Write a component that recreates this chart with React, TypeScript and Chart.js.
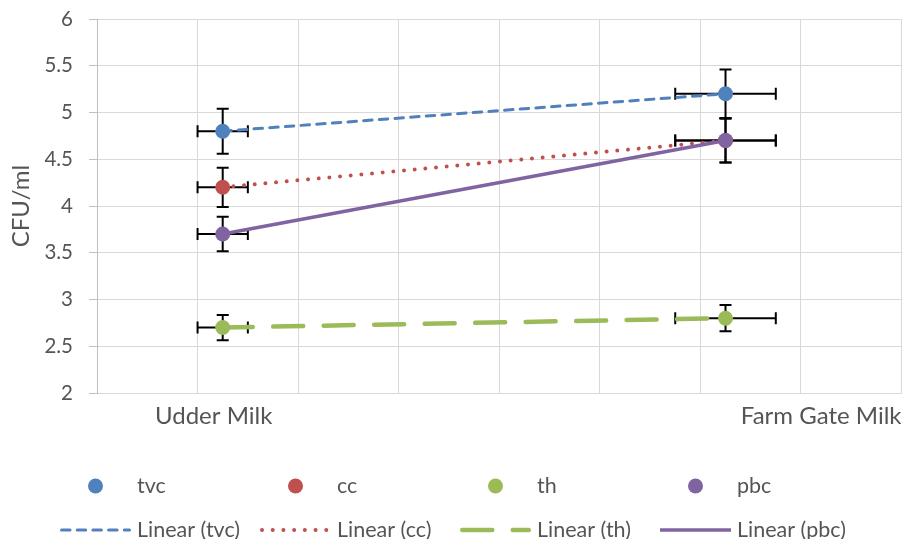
import React, { useEffect, useRef } from 'react';
import { Chart, registerables } from 'chart.js';

Chart.register(...registerables);

// ---- data ----
const categories = ['Udder Milk', 'Farm Gate Milk'];
const xValues = [1, 2];
const xErrors = [0.05, 0.1];
const seriesNames = ['tvc', 'cc', 'th', 'pbc'];
const tvc = [4.8, 5.2];
const cc = [4.2, 4.7];
const th = [2.7, 2.8];
const pbc = [3.7, 4.7];
const tvcErr = [0.24, 0.26];
const ccErr = [0.21, 0.235];
const thErr = [0.135, 0.14];
const pbcErr = [0.185, 0.235];
const yMin = 2;
const yMax = 6;
const yStep = 0.5;
const xMin = 0.75;
const xMax = 2.35;
const xStep = 0.2;
const yTitle = 'CFU/ml';

// ---- styles ----
const FONT = 'Lato, "Open Sans", sans-serif';
const TEXT = '#555555';
const colors = ['#4F81BD', '#C0504D', '#9BBB59', '#8064A2'];
const lineStyles = [
  { width: 3, dash: [8.5, 7.2] },
  { width: 4, dash: [0.01, 10.7] },
  { width: 4.5, dash: [30, 20.5] },
  { width: 3.5, dash: [] as number[] },
];
const seriesValues = [tvc, cc, th, pbc];
const seriesErrors = [tvcErr, ccErr, thErr, pbcErr];

const errorBarsPlugin = {
  id: 'errorBars',
  beforeDatasetsDraw(chart: any) {
    const { ctx, scales } = chart;
    const xs = scales.x;
    const ys = scales.y;
    const cap = 6;
    ctx.save();
    ctx.strokeStyle = '#000';
    ctx.lineWidth = 2;
    seriesValues.forEach((vals, s) => {
      vals.forEach((v, i) => {
        const px = xs.getPixelForValue(xValues[i]);
        const py = ys.getPixelForValue(v);
        const xl = xs.getPixelForValue(xValues[i] - xErrors[i]);
        const xr = xs.getPixelForValue(xValues[i] + xErrors[i]);
        const yt = ys.getPixelForValue(v + seriesErrors[s][i]);
        const yb = ys.getPixelForValue(v - seriesErrors[s][i]);
        ctx.beginPath();
        ctx.moveTo(xl, py); ctx.lineTo(xr, py);
        ctx.moveTo(xl, py - cap); ctx.lineTo(xl, py + cap);
        ctx.moveTo(xr, py - cap); ctx.lineTo(xr, py + cap);
        ctx.moveTo(px, yt); ctx.lineTo(px, yb);
        ctx.moveTo(px - cap, yt); ctx.lineTo(px + cap, yt);
        ctx.moveTo(px - cap, yb); ctx.lineTo(px + cap, yb);
        ctx.stroke();
      });
    });
    ctx.restore();
  },
};

const labelsAndLegendPlugin = {
  id: 'labelsAndLegend',
  afterDraw(chart: any) {
    const { ctx, chartArea, scales } = chart;
    const xs = scales.x;
    ctx.save();
    // category labels
    ctx.fillStyle = TEXT;
    ctx.font = `24px ${FONT}`;
    ctx.textBaseline = 'alphabetic';
    ctx.textAlign = 'center';
    ctx.fillText(categories[0], xs.getPixelForValue(xValues[0]) - 9, chartArea.bottom + 31);
    ctx.textAlign = 'right';
    ctx.fillText(categories[1], chartArea.right, chartArea.bottom + 31);

    // legend
    const row1 = 486;
    const row2 = 530;
    const colW = 200;
    const start = 60;
    ctx.font = `21.5px ${FONT}`;
    ctx.textAlign = 'left';
    seriesNames.forEach((name, i) => {
      const x0 = start + colW * i;
      // marker
      ctx.fillStyle = colors[i];
      ctx.beginPath();
      ctx.arc(x0 + 35.5, row1, 7.5, 0, Math.PI * 2);
      ctx.fill();
      ctx.fillStyle = TEXT;
      ctx.fillText(name, x0 + 77, row1 + 7);
      // trend line sample
      ctx.strokeStyle = colors[i];
      ctx.lineWidth = lineStyles[i].width;
      ctx.lineCap = lineStyles[i].dash.length ? 'round' : 'butt';
      ctx.setLineDash(lineStyles[i].dash);
      ctx.beginPath();
      const inset = lineStyles[i].dash.length ? lineStyles[i].width / 2 : 0;
      ctx.moveTo(x0 + inset, row2);
      ctx.lineTo(x0 + 71 - inset, row2);
      ctx.stroke();
      ctx.setLineDash([]);
      ctx.fillStyle = TEXT;
      ctx.fillText(`Linear (${name})`, x0 + 77, row2 + 7);
    });
    ctx.restore();
  },
};

export default function App() {
  const ref = useRef<HTMLCanvasElement>(null);
  useEffect(() => {
    if (!ref.current) return;
    const markerSets = seriesNames.map((name, i) => ({
      label: name,
      data: xValues.map((x, k) => ({ x, y: seriesValues[i][k] })),
      showLine: false,
      pointRadius: 7.5,
      pointBackgroundColor: colors[i],
      pointBorderColor: colors[i],
      pointBorderWidth: 0,
      order: 4 - i,
    }));
    const trendSets = seriesNames.map((name, i) => ({
      label: `Linear (${name})`,
      data: xValues.map((x, k) => ({ x, y: seriesValues[i][k] })),
      showLine: true,
      pointRadius: 0,
      borderColor: colors[i],
      borderWidth: lineStyles[i].width,
      borderDash: lineStyles[i].dash,
      borderCapStyle: lineStyles[i].dash.length ? 'round' : 'butt',
      fill: false,
      order: 14 - i,
    }));
    const chart = new Chart(ref.current, {
      type: 'scatter',
      data: { datasets: [...markerSets, ...trendSets] as any },
      options: {
        animation: false,
        responsive: false,
        layout: { autoPadding: false, padding: { top: 19, right: 4.5, bottom: 0, left: 0 } },
        plugins: { legend: { display: false }, tooltip: { enabled: false } },
        scales: {
          x: {
            type: 'linear',
            min: xMin,
            max: xMax,
            afterBuildTicks: (scale: any) => {
              const t = [];
              for (let v = xMin; v <= xMax + 1e-9; v += xStep) t.push({ value: v });
              scale.ticks = t;
            },
            afterFit: (scale: any) => {
              scale.height = 146;
              scale.paddingLeft = 0;
              scale.paddingRight = 0;
            },
            ticks: { display: false },
            grid: { color: '#d9d9d9', lineWidth: 1, drawTicks: false },
            border: { color: '#d9d9d9', width: 1 },
          },
          y: {
            type: 'linear',
            min: yMin,
            max: yMax,
            afterFit: (scale: any) => {
              scale.width = 97;
              scale.paddingTop = 0;
              scale.paddingBottom = 0;
            },
            ticks: {
              stepSize: yStep,
              color: TEXT,
              font: { family: FONT, size: 20.5 },
              padding: 16,
              callback: (v: any) => `${v}`,
            },
            grid: { color: '#d9d9d9', lineWidth: 1, tickLength: 8, tickColor: '#bfbfbf' },
            border: { color: '#bfbfbf', width: 1 },
            title: {
              display: true,
              text: yTitle,
              color: TEXT,
              font: { family: FONT, size: 24, lineHeight: 1.2 },
              padding: { top: 7, bottom: 0 },
            },
          },
        },
      },
      plugins: [errorBarsPlugin, labelsAndLegendPlugin],
    } as any);
    return () => chart.destroy();
  }, []);
  return (
    <div style={{ position: 'absolute', left: 0, top: 0, width: 906, height: 539, background: '#fff' }}>
      <canvas ref={ref} width={906} height={539} />
    </div>
  );
}
